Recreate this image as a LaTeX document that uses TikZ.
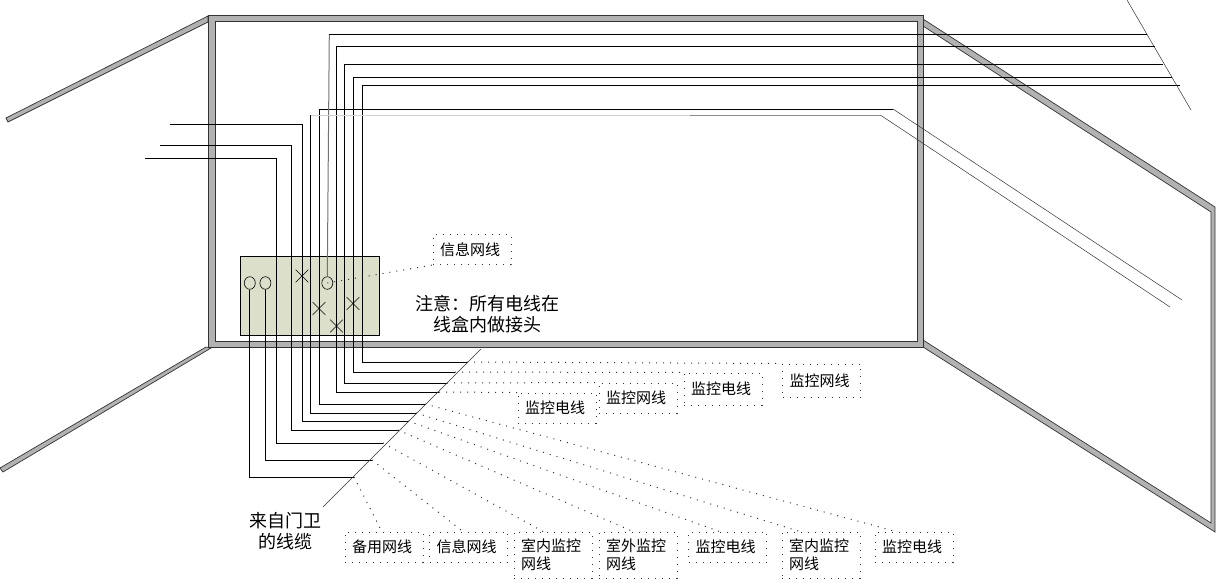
\documentclass[tikz,border=0pt]{standalone}
\usepackage{fontspec}
\setmainfont{Noto Sans CJK SC}
\usetikzlibrary{shapes.misc,shapes.geometric}
\definecolor{wallgray}{HTML}{B2B2B2}
\definecolor{boxgreen}{HTML}{DCE0CB}
\tikzset{
	wall/.style={fill=wallgray,draw=black!80,line width=.7pt,even odd rule},
	wire/.style={line width=1pt},
	thinwire/.style={line width=.5pt,black!80},
	dots/.style={line width=1pt,black!80,dash pattern=on 1pt off 6pt},
	lab/.style={draw,dots,text=black,text width=64pt,minimum width=78pt,minimum height=30pt,inner sep=0pt,align=left,
		font=\fontsize{15}{18}\selectfont},
	lab2/.style={lab,minimum height=46pt},
	note/.style={align=center,inner sep=0pt,font=\fontsize{18}{21}\selectfont},
	socket/.style={ellipse,draw,line width=.6pt,minimum width=11pt,minimum height=12.6pt,inner sep=0pt},
	joint/.style={cross out,draw,line width=.6pt,minimum size=12pt,inner sep=0pt}
}
\begin{document}
\begin{tikzpicture}[x=1pt,y=-1pt]
		\useasboundingbox (0,0) rectangle (1216,582);

		% walls
		\path[wall] (208,16) -- (6,118) -- (8,122) -- (208,22) -- cycle;
		\path[wall] (206,347) -- (0,468) -- (3,472) -- (211,348) -- cycle;
		\path[wall] (923,19) -- (1215,207) -- (1215,532) -- (923,347) -- cycle
			(923,26) -- (1211,212) -- (1211,523) -- (923,340) -- cycle;
		\path[wall] (208,15) rectangle (923,347) (215.5,21.7) rectangle (917,341.7);

		% line box
		\node[fill=boxgreen,draw,line width=.8pt,minimum width=139pt,minimum height=79pt,inner sep=0pt] (lineBox) at (309.8,295.8) {};
		\node[socket] (sockA) at (249.8,283) {};
		\node[socket] (sockB) at (265.4,283) {};
		\node[socket] (sockC) at (327.3,283) {};
		\node[joint] (jointA) at (302,276) {};
		\node[joint] (jointB) at (319,308.5) {};
		\node[joint] (jointC) at (336.5,326) {};
		\node[joint] (jointD) at (353,303.5) {};

		% labels
		\node[lab] (infoTop) at (472,249.5) {信息网线};
		\node[lab,minimum height=33pt] (upA) at (821.5,380.5) {监控网线};
		\node[lab,minimum height=32pt] (upB) at (723,389) {监控电线};
		\node[lab] (upC) at (638,398) {监控网线};
		\node[lab] (upD) at (557,408) {监控电线};
		\node[lab] (lowA) at (384,547) {备用网线};
		\node[lab] (lowB) at (468.5,547) {信息网线};
		\node[lab2] (lowC) at (553,555) {室内监控\\网线};
		\node[lab2] (lowD) at (638,555) {室外监控\\网线};
		\node[lab] (lowE) at (727.5,547) {监控电线};
		\node[lab2] (lowF) at (821,555) {室内监控\\网线};
		\node[lab] (lowG) at (914,547) {监控电线};
		\node[note] (noteBox) at (487,314.5) {注意：所有电线在\\线盒内做接头};
		\node[note] (noteCable) at (285,531) {来自门卫\\的线缆};

		% cable ends
		\coordinate (cabTop) at (481,349);
		\coordinate (cabEnd) at (323,507);
		\coordinate (wA) at (354,477);
		\coordinate (wB) at (372,460);
		\coordinate (wC) at (383,443);
		\coordinate (wD) at (398,430);
		\coordinate (wE) at (408,421);
		\coordinate (wF) at (416,413);
		\coordinate (wG) at (425,404);
		\coordinate (wH) at (439,392);
		\coordinate (wI) at (447,383);
		\coordinate (wJ) at (455,372);
		\coordinate (wK) at (467,362);
		\coordinate (topA) at (336.5,46);
		\coordinate (topB) at (344.5,64);
		\coordinate (topC) at (353.4,77);
		\coordinate (topD) at (362.3,85);

		% wires
		\draw[wire] (wA) -| (sockA.south);
		\draw[wire] (wB) -| (sockB.south);
		\draw[wire] (wC) -- (276.3,443) -- (276.3,158) -- (145,158);
		\draw[wire] (wD) -- (291.7,430) -- (291.7,145.7) -- (160,145.7);
		\draw[wire] (wE) -- (302.7,421) -- (302.7,124) -- (170,124);
		\draw[wire] (wF) -- (310.5,413) -- (310.5,115);
		\draw[wire] (wG) -- (319.3,404) -- (319.3,109) -- (893,109);
		\draw[wire] (wH) -| (topA) -- (1155,46);
		\draw[wire] (wI) -| (topB) -- (1163,64);
		\draw[wire] (wJ) -| (topC) -- (1172,77);
		\draw[wire] (wK) -| (topD) -- (1180,85);
		\draw[wire,black!55] (sockC.north) -- (329.3,34);
		\draw[wire] (329.3,34) -- (1147,34);
		\draw[wire,black!18,line width=1.6pt] (310.5,115.5) -- (690,115.5);
		\draw[wire,black!45] (690,115.5) -- (881,115.5);
		\draw[thinwire] (893,109) -- (1182,300);
		\draw[thinwire] (881,115.5) -- (1170,307);
		\draw[thinwire] (1127,0) -- (1191,110);
		\draw[thinwire] (cabTop) -- (cabEnd);

		% dotted leads
		\draw[dots] (sockC.center) -- (infoTop.south west);
		\draw[dots] (wK) -- (upA.north west);
		\draw[dots] (wJ) -- (upB.north west);
		\draw[dots] (wI) -- (upC.north west);
		\draw[dots] (wH) -- (upD.north west);
		\draw[dots] (wG) -- (lowG.139);
		\draw[dots] (wF) -- (lowF.132);
		\draw[dots] (wE) -- (lowE.117);
		\draw[dots] (wD) -- (lowD.102);
		\draw[dots] (wC) -- (lowC.113);
		\draw[dots] (wB) -- (lowB.110);
		\draw[dots] (wA) -- (lowA.98);
	\end{tikzpicture}
\end{document}
